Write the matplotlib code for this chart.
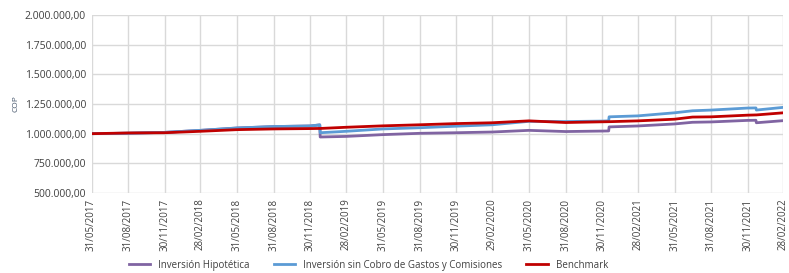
import matplotlib
matplotlib.use("Agg")
import matplotlib.pyplot as plt
import matplotlib.dates as mdates
import matplotlib.ticker as mticker
import numpy as np
import pandas as pd

# fechas de lectura (con saltos en diciembre)
dates = pd.to_datetime([
    "2017-05-31", "2017-08-31", "2017-11-30", "2018-02-28", "2018-05-31",
    "2018-08-31", "2018-11-30", "2018-12-24", "2018-12-25", "2019-02-28",
    "2019-05-31", "2019-08-31", "2019-11-30", "2020-02-29", "2020-05-31",
    "2020-08-31", "2020-11-30", "2020-12-17", "2020-12-18", "2021-02-28",
    "2021-05-31", "2021-07-15", "2021-08-31", "2021-11-30", "2021-12-21",
    "2021-12-22", "2022-02-28",
])

# valores en miles de COP
hipotetica = [1000, 1004, 1011, 1028, 1048, 1060, 1065, 1074, 972, 977,
              992, 1003, 1008, 1014, 1028, 1018, 1022, 1023, 1057, 1065,
              1082, 1096, 1099, 1112, 1113, 1092, 1110]
sin_cobro = [1000, 1004, 1011, 1028, 1048, 1060, 1065, 1074, 1008, 1020,
             1040, 1050, 1063, 1075, 1104, 1102, 1106, 1108, 1142, 1150,
             1176, 1193, 1199, 1216, 1217, 1199, 1222]
benchmark = [1000, 1006, 1008, 1020, 1034, 1040, 1043, 1044, 1044, 1054,
             1066, 1075, 1085, 1092, 1108, 1094, 1100, 1101, 1101, 1108,
             1122, 1140, 1142, 1156, 1158, 1158, 1176]

tick_dates = pd.to_datetime([
    "2017-05-31", "2017-08-31", "2017-11-30", "2018-02-28", "2018-05-31",
    "2018-08-31", "2018-11-30", "2019-02-28", "2019-05-31", "2019-08-31",
    "2019-11-30", "2020-02-29", "2020-05-31", "2020-08-31", "2020-11-30",
    "2021-02-28", "2021-05-31", "2021-08-31", "2021-11-30", "2022-02-28",
])

plt.rcParams['font.family'] = ['Open Sans', 'DejaVu Sans']

fig = plt.figure(figsize=(7.89, 2.73), dpi=100)
ax = fig.add_axes([0.116, 0.293, 0.877, 0.652])

ax.plot(dates, np.array(hipotetica) * 1000, color="#8064A2", lw=2,
        label="Inversión Hipotética")
ax.plot(dates, np.array(sin_cobro) * 1000, color="#5B9BD5", lw=2,
        label="Inversión sin Cobro de Gastos y Comisiones")
ax.plot(dates, np.array(benchmark) * 1000, color="#C00000", lw=2,
        label="Benchmark")

ax.set_xlim(tick_dates[0], tick_dates[-1])
ax.set_ylim(500000, 2000000)
ax.set_yticks(np.arange(500000, 2000001, 250000))
ax.yaxis.set_major_formatter(mticker.FuncFormatter(
    lambda v, p: f"{v:,.2f}".replace(",", "X").replace(".", ",").replace("X", ".")))
ax.set_xticks(tick_dates)
ax.xaxis.set_major_formatter(mdates.DateFormatter("%d/%m/%Y"))
plt.setp(ax.get_xticklabels(), rotation=90)

ax.tick_params(axis="both", length=0, labelsize=7, colors="#404040", pad=4)
ax.tick_params(axis="y", labelsize=7.5)
ax.grid(True, color="#D9D9D9", lw=1)
ax.set_axisbelow(True)
for s in ax.spines.values():
    s.set_visible(False)

ax.set_ylabel("COP", fontsize=6, color="#44546A", labelpad=4)

ax.legend(loc="center", bbox_to_anchor=(0.40, -0.405), ncol=3, frameon=False,
          fontsize=7, handlelength=2.2, columnspacing=2.5, labelcolor="#404040",
          borderpad=0)

fig.savefig("out.png", dpi=100)
